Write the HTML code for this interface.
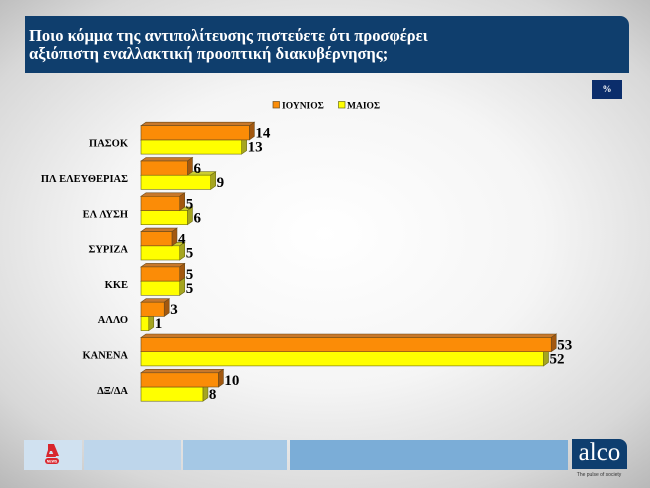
<!DOCTYPE html>
<html>
<head>
<meta charset="utf-8">
<style>
html,body{margin:0;padding:0;}
body{width:650px;height:488px;overflow:hidden;position:relative;
background:radial-gradient(ellipse 75% 70% at 50% 48%, #ffffff 0%, #f5f5f5 45%, #d8d8d8 80%, #b8b8b8 100%);
font-family:"Liberation Serif",serif;}
.hdr{position:absolute;left:25px;top:16px;width:604px;height:57px;background:#0f3e6d;border-top-right-radius:9px;box-sizing:border-box;padding:11px 0 0 4px;color:#fff;font-weight:bold;font-size:16.5px;line-height:18px;}
.pct{position:absolute;left:592px;top:80px;width:30px;height:19px;background:#0b2d6b;color:#fff;font-weight:bold;font-size:9px;line-height:19px;text-align:center;}
.fb{position:absolute;top:440px;height:30px;}
</style>
</head>
<body>
<div class="hdr">Ποιο κόμμα της αντιπολίτευσης πιστεύετε ότι προσφέρει<br>αξιόπιστη εναλλακτική προοπτική διακυβέρνησης;</div>
<div class="pct">%</div>

<svg width="650" height="488" style="position:absolute;left:0;top:0" xmlns="http://www.w3.org/2000/svg">
<g font-family="Liberation Serif, serif" font-weight="bold">
<rect x="273" y="101.5" width="6.5" height="6.5" fill="#fb8c07" stroke="#6b4a1a" stroke-width="0.7"/>
<text x="282" y="108.5" font-size="9.5" fill="#000">ΙΟΥΝΙΟΣ</text>
<rect x="338.5" y="101.5" width="6.5" height="6.5" fill="#ffff00" stroke="#6b6b10" stroke-width="0.7"/>
<text x="347" y="108.5" font-size="9.5" fill="#000">ΜΑΙΟΣ</text>
</g>
<g id="bars" font-family="Liberation Serif, serif" font-weight="bold"></g>
</svg>

<div class="fb" style="left:24px;width:58px;background:#d0e1f0;"></div>
<div class="fb" style="left:84px;width:97px;background:#bed6eb;"></div>
<div class="fb" style="left:183px;width:104px;background:#a5c8e5;"></div>
<div class="fb" style="left:290px;width:278px;background:#7badd7;"></div>
<div style="position:absolute;left:572px;top:439px;width:55px;height:30px;background:#0e3e6f;border-top-right-radius:8px;color:#fff;font-family:'Liberation Serif',serif;font-size:25px;line-height:28px;text-align:center;">alco</div>
<div style="position:absolute;left:574px;top:472px;width:50px;font-family:'Liberation Sans',sans-serif;font-size:5px;color:#333;text-align:center;">The pulse of society</div>
<svg width="30" height="26" style="position:absolute;left:39px;top:442px" xmlns="http://www.w3.org/2000/svg">
<polygon points="9,2 15,2 20,14 15,14 13,9 11,9 10,12 16,12 17,15 7,15 8,11 9,8" fill="#d8262e"/>
<rect x="6" y="16" width="14" height="6" rx="3" fill="#d8262e"/>
<text x="13" y="20.6" font-size="3.5" fill="#fff" text-anchor="middle" font-family="Liberation Sans, sans-serif" font-weight="bold">NEWS</text>
</svg>

<script>
(function(){
var data=[["ΠΑΣΟΚ",14,13],["ΠΛ ΕΛΕΥΘΕΡΙΑΣ",6,9],["ΕΛ ΛΥΣΗ",5,6],["ΣΥΡΙΖΑ",4,5],["ΚΚΕ",5,5],["ΑΛΛΟ",3,1],["ΚΑΝΕΝΑ",53,52],["ΔΞ/ΔΑ",10,8]];
var x0=141,u=7.74,h=14.2,dx=5,dy=3.5,pitch=35.3,top=125.7;
var s="";
function bar(y,w,front,topc,side,stroke){
  var r="";
  r+='<polygon points="'+x0+','+y+' '+(x0+dx)+','+(y-dy)+' '+(x0+w+dx)+','+(y-dy)+' '+(x0+w)+','+y+'" fill="'+topc+'" stroke="'+stroke+'" stroke-width="0.6"/>';
  r+='<polygon points="'+(x0+w)+','+y+' '+(x0+w+dx)+','+(y-dy)+' '+(x0+w+dx)+','+(y+h-dy)+' '+(x0+w)+','+(y+h)+'" fill="'+side+'" stroke="'+stroke+'" stroke-width="0.6"/>';
  r+='<rect x="'+x0+'" y="'+y+'" width="'+w+'" height="'+h+'" fill="'+front+'" stroke="'+stroke+'" stroke-width="0.6"/>';
  return r;
}
for(var i=0;i<data.length;i++){
  var d=data[i],y0=top+pitch*i;
  var wo=d[1]*u,wy=d[2]*u;
  s+='<text x="128" y="'+(y0+21)+'" font-size="10.5" text-anchor="end" fill="#000">'+d[0]+'</text>';
  s+=bar(y0+h,wy,"#ffff00","#cccc30","#a5a520","#6b6b10");
  s+=bar(y0,wo,"#fb8c07","#c8782a","#a3580f","#6b4a1a");
  s+='<text x="'+(x0+wo+dx+1)+'" y="'+(y0+12)+'" font-size="15" fill="#000">'+d[1]+'</text>';
  s+='<text x="'+(x0+wy+dx+1)+'" y="'+(y0+26)+'" font-size="15" fill="#000">'+d[2]+'</text>';
}
document.getElementById("bars").innerHTML=s;
})();
</script>
</body>
</html>
